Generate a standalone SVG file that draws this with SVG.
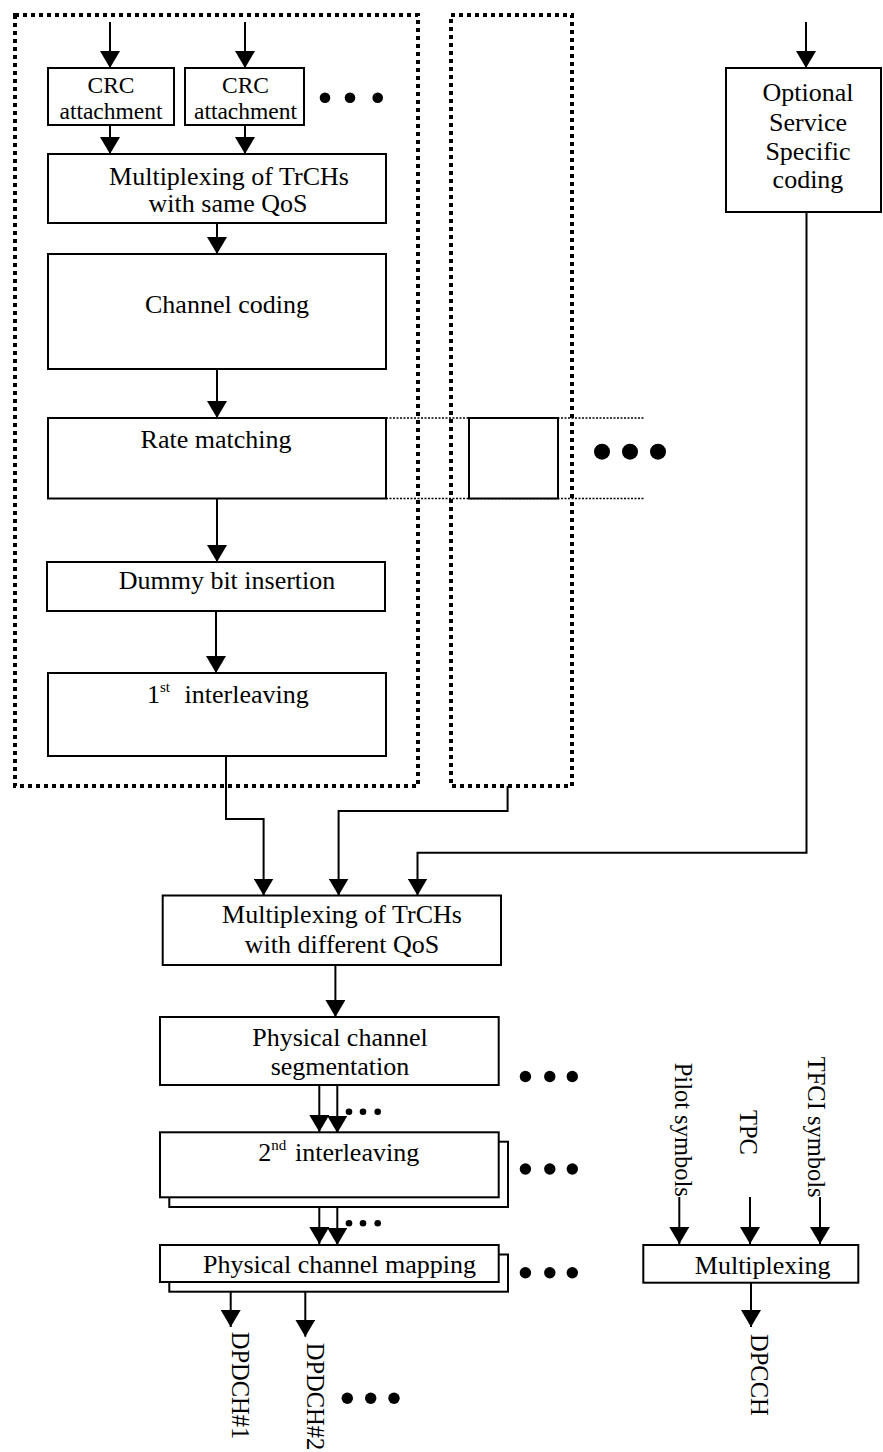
<svg xmlns="http://www.w3.org/2000/svg" width="883" height="1452" viewBox="0 0 883 1452">
<style>
.box{fill:#fff;stroke:#000;stroke-width:2}
.frame{fill:none;stroke:#000;stroke-width:4;stroke-dasharray:4 4}
.thin{fill:none;stroke:#000;stroke-width:1.5;stroke-dasharray:2 1.5}
.conn{fill:none;stroke:#000;stroke-width:2;marker-end:url(#arr)}
text{font-family:"Liberation Serif","Times New Roman",serif;font-size:26px;fill:#000}
.c{text-anchor:middle}
.sup{font-size:15px}
.r{font-size:24.5px}
.s{font-size:23.5px}
</style>
<defs>
<marker id="arr" viewBox="0 0 17 20" markerWidth="17" markerHeight="20" refX="17" refY="10" orient="auto" markerUnits="userSpaceOnUse">
<path d="M0,0 L17,10 L0,20 z" fill="#000"/>
</marker>
</defs>
<rect width="883" height="1452" fill="#fff"/>

<g id="frame1"><rect class="frame" x="15" y="15" width="403" height="771"/></g>
<g id="frame2"><rect class="frame" x="451" y="15" width="121" height="771"/></g>

<g id="rm-extension">
<line class="thin" x1="386" y1="418" x2="644" y2="418"/>
<line class="thin" x1="386" y1="498.5" x2="644" y2="498.5"/>
</g>

<g id="connectors">
<line class="conn" x1="110" y1="22" x2="110" y2="68"/>
<line class="conn" x1="245" y1="22" x2="245" y2="68"/>
<line class="conn" x1="110" y1="125" x2="110" y2="154"/>
<line class="conn" x1="245" y1="125" x2="245" y2="154"/>
<line class="conn" x1="217" y1="223" x2="217" y2="254"/>
<line class="conn" x1="217" y1="369" x2="217" y2="418"/>
<line class="conn" x1="217" y1="498.5" x2="217" y2="562"/>
<line class="conn" x1="216" y1="611" x2="216" y2="673"/>
<path class="conn" d="M226,756 V819 H263.6 V895.5"/>
<path class="conn" d="M507.6,786 V811 H338.6 V895.5"/>
<path class="conn" d="M806.5,212 V852.7 H417.5 V895.5"/>
<line class="conn" x1="806" y1="22" x2="806" y2="68"/>
<line class="conn" x1="335.4" y1="965" x2="335.4" y2="1017"/>
<line class="conn" x1="319.3" y1="1085" x2="319.3" y2="1132"/>
<line class="conn" x1="337.3" y1="1085" x2="337.3" y2="1133"/>
<line class="conn" x1="319.3" y1="1197" x2="319.3" y2="1244"/>
<line class="conn" x1="337.3" y1="1197" x2="337.3" y2="1245"/>
<line class="conn" x1="230.7" y1="1282" x2="230.7" y2="1327"/>
<line class="conn" x1="305.3" y1="1292" x2="305.3" y2="1336.7"/>
<line class="conn" x1="751" y1="1283" x2="751" y2="1327"/>
<line class="conn" x1="679.3" y1="1197" x2="679.3" y2="1244"/>
<line class="conn" x1="750" y1="1197" x2="750" y2="1244"/>
<line class="conn" x1="820" y1="1197" x2="820" y2="1244"/>
</g>

<g id="crc1"><rect class="box" x="48" y="68" width="126" height="57"/>
<text class="c s" x="111" y="92.5">CRC</text><text class="c s" x="111" y="119">attachment</text></g>
<g id="crc2"><rect class="box" x="185" y="68" width="119" height="57"/>
<text class="c s" x="245.5" y="92.5">CRC</text><text class="c s" x="245.5" y="119">attachment</text></g>
<g id="crc-dots"><circle cx="325" cy="97.7" r="5.3"/><circle cx="350" cy="97.7" r="5.3"/><circle cx="377.7" cy="97.7" r="5.3"/></g>

<g id="mux-same"><rect class="box" x="48" y="154" width="338" height="69"/>
<text class="c" x="229" y="185">Multiplexing of TrCHs</text><text class="c" x="228" y="212">with same QoS</text></g>

<g id="channel-coding"><rect class="box" x="48" y="254" width="338" height="115"/>
<text class="c" x="227" y="313">Channel coding</text></g>

<g id="rate-matching"><rect class="box" x="48" y="418" width="338" height="80.5"/>
<text class="c" x="216" y="448">Rate matching</text></g>

<g id="rm-box2"><rect class="box" x="469" y="418" width="89" height="80.5"/></g>
<g id="rm-dots"><circle cx="602" cy="451.7" r="8"/><circle cx="630" cy="451.7" r="8"/><circle cx="658" cy="451.7" r="8"/></g>

<g id="dummy"><rect class="box" x="47" y="562" width="338" height="49"/>
<text class="c" x="227" y="589">Dummy bit insertion</text></g>

<g id="interleave1"><rect class="box" x="48" y="673" width="338" height="83"/>
<text x="147" y="703">1<tspan class="sup" dy="-11">st</tspan><tspan x="184.6" dy="11">interleaving</tspan></text></g>

<g id="optional"><rect class="box" x="726" y="68" width="155" height="144"/>
<text class="c" x="808" y="101">Optional</text><text class="c" x="808" y="131">Service</text>
<text class="c" x="808" y="159.5">Specific</text><text class="c" x="808" y="188">coding</text></g>

<g id="mux-diff"><rect class="box" x="162.7" y="895.5" width="338.3" height="69.5"/>
<text class="c" x="342" y="923">Multiplexing of TrCHs</text><text class="c" x="342" y="953">with different QoS</text></g>

<g id="segmentation"><rect class="box" x="160" y="1017" width="338.7" height="68"/>
<text class="c" x="340" y="1045.5">Physical channel</text><text class="c" x="340" y="1075">segmentation</text></g>
<g id="seg-dots"><circle cx="525.4" cy="1076.5" r="5.7"/><circle cx="549.8" cy="1076.5" r="5.7"/><circle cx="572.3" cy="1076.5" r="5.7"/></g>
<g id="seg-small-dots"><circle cx="349" cy="1111.7" r="3.3"/><circle cx="363" cy="1111.7" r="3.3"/><circle cx="377.7" cy="1111.7" r="3.3"/></g>

<g id="interleave2"><rect class="box" x="169.3" y="1141.7" width="338.7" height="65.3"/>
<rect class="box" x="160" y="1132.3" width="338.7" height="65"/>
<text x="258.3" y="1161">2<tspan class="sup" dy="-11">nd</tspan><tspan x="295" dy="11">interleaving</tspan></text></g>
<g id="int2-dots"><circle cx="525.4" cy="1169" r="5.7"/><circle cx="549.8" cy="1169" r="5.7"/><circle cx="572.3" cy="1169" r="5.7"/></g>
<g id="int2-small-dots"><circle cx="349" cy="1223.3" r="3.3"/><circle cx="363" cy="1223.3" r="3.3"/><circle cx="377.7" cy="1223.3" r="3.3"/></g>

<g id="mapping"><rect class="box" x="169.3" y="1254.5" width="338.7" height="37.2"/>
<rect class="box" x="160" y="1245" width="338.7" height="37"/>
<text class="c" x="339.5" y="1273">Physical channel mapping</text></g>
<g id="map-dots"><circle cx="525.4" cy="1272.7" r="5.7"/><circle cx="549.8" cy="1272.7" r="5.7"/><circle cx="572.3" cy="1272.7" r="5.7"/></g>

<g id="multiplexing"><rect class="box" x="643.3" y="1245" width="215" height="37.7"/>
<text class="c" x="762.7" y="1274">Multiplexing</text></g>

<g id="pilot"><text class="r" transform="translate(675,1062.7) rotate(90)">Pilot symbols</text></g>
<g id="tpc"><text class="r" transform="translate(740,1110) rotate(90)">TPC</text></g>
<g id="tfci"><text class="r" transform="translate(808,1056.7) rotate(90)">TFCI symbols</text></g>

<g id="dpdch1"><text class="r" transform="translate(232,1331.7) rotate(90)">DPDCH#1</text></g>
<g id="dpdch2"><text class="r" transform="translate(306.5,1342.7) rotate(90)">DPDCH#2</text></g>
<g id="dpdch-dots"><circle cx="347.3" cy="1398.3" r="5.7"/><circle cx="370.7" cy="1398.3" r="5.7"/><circle cx="394" cy="1398.3" r="5.7"/></g>
<g id="dpcch"><text class="r" transform="translate(751,1334) rotate(90)">DPCCH</text></g>
</svg>
